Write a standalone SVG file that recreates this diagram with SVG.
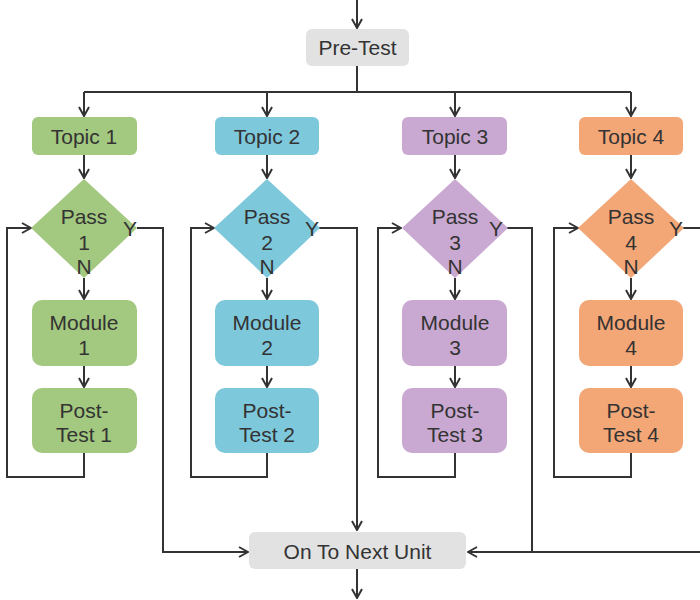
<svg xmlns="http://www.w3.org/2000/svg" width="700" height="600" viewBox="0 0 700 600">
  <style>
    .lbl { font-family: "Liberation Sans", Arial, sans-serif; font-size: 21px; fill: #333; text-anchor: middle; }
    .yn { font-family: "Liberation Sans", Arial, sans-serif; font-size: 21px; fill: #333; text-anchor: middle; }
    .wire { fill: none; stroke: #333; stroke-width: 2; }
    .arr { marker-end: url(#head); }
    .gray { fill: #e2e2e2; }
    .green { fill: #a3c87f; }
    .blue { fill: #7ec8dc; }
    .purple { fill: #c9a9d1; }
    .orange { fill: #f3a676; }
  </style>
  <defs>
    <marker id="head" viewBox="0 0 12 12" refX="11" refY="6" markerWidth="12" markerHeight="12" markerUnits="userSpaceOnUse" orient="auto">
      <path d="M2,1 L11,6 L2,11" fill="none" stroke="#333" stroke-width="2"/>
    </marker>
  </defs>
  <rect width="700" height="600" fill="#fff"/>

  <g id="connectors">
    <path class="wire arr" d="M357,0 V28"/>
    <path class="wire" d="M357,66 V92 M84,92 H631"/>
    <path class="wire arr" d="M84,92 V116"/>
    <path class="wire arr" d="M267,92 V116"/>
    <path class="wire arr" d="M455,92 V116"/>
    <path class="wire arr" d="M631,92 V116"/>

    <path class="wire arr" d="M84,155 V178"/>
    <path class="wire arr" d="M267,155 V178"/>
    <path class="wire arr" d="M455,155 V178"/>
    <path class="wire arr" d="M631,155 V178"/>

    <path class="wire arr" d="M84,278 V299"/>
    <path class="wire arr" d="M267,278 V299"/>
    <path class="wire arr" d="M455,278 V299"/>
    <path class="wire arr" d="M631,278 V299"/>

    <path class="wire arr" d="M84,366 V387"/>
    <path class="wire arr" d="M267,366 V387"/>
    <path class="wire arr" d="M455,366 V387"/>
    <path class="wire arr" d="M631,366 V387"/>

    <!-- retry loops back to each decision -->
    <path class="wire arr" d="M84,453 V477 H7 V228 H31"/>
    <path class="wire arr" d="M267,453 V477 H191 V228 H214"/>
    <path class="wire arr" d="M455,453 V477 H378 V228 H401"/>
    <path class="wire arr" d="M631,453 V477 H554 V228 H578"/>

    <!-- pass exits -->
    <path class="wire arr" d="M137,228 H163 V552 H248"/>
    <path class="wire arr" d="M319,228 H357 V530"/>
    <path class="wire" d="M507,228 H532 V552"/>
    <path class="wire arr" d="M683,228 H712 V552 H468"/>

    <path class="wire arr" d="M357,569 V598"/>
  </g>

  <g id="pretest">
    <rect class="gray" x="306" y="29" width="103" height="37" rx="6"/>
    <text class="lbl" x="357.5" y="55">Pre-Test</text>
  </g>

  <g id="topic1">
    <rect class="green" x="32" y="117" width="105" height="38" rx="6"/>
    <text class="lbl" x="84" y="144">Topic 1</text>
  </g>
  <g id="topic2">
    <rect class="blue" x="215" y="117" width="104" height="38" rx="6"/>
    <text class="lbl" x="267" y="144">Topic 2</text>
  </g>
  <g id="topic3">
    <rect class="purple" x="402" y="117" width="105" height="38" rx="6"/>
    <text class="lbl" x="455" y="144">Topic 3</text>
  </g>
  <g id="topic4">
    <rect class="orange" x="579" y="117" width="104" height="38" rx="6"/>
    <text class="lbl" x="631" y="144">Topic 4</text>
  </g>

  <g id="pass1">
    <path class="green" d="M84,179 L137,228 L84,278 L31,228 Z"/>
    <text class="lbl" x="84" y="224">Pass</text>
    <text class="lbl" x="84" y="250">1</text>
    <text class="lbl" x="84" y="274">N</text>
    <text class="yn" x="130" y="236">Y</text>
  </g>
  <g id="pass2">
    <path class="blue" d="M267,179 L320,228 L267,278 L214,228 Z"/>
    <text class="lbl" x="267" y="224">Pass</text>
    <text class="lbl" x="267" y="250">2</text>
    <text class="lbl" x="267" y="274">N</text>
    <text class="yn" x="312" y="236">Y</text>
  </g>
  <g id="pass3">
    <path class="purple" d="M455,179 L508,228 L455,278 L402,228 Z"/>
    <text class="lbl" x="455" y="224">Pass</text>
    <text class="lbl" x="455" y="250">3</text>
    <text class="lbl" x="455" y="274">N</text>
    <text class="yn" x="496" y="236">Y</text>
  </g>
  <g id="pass4">
    <path class="orange" d="M631,179 L684,228 L631,278 L578,228 Z"/>
    <text class="lbl" x="631" y="224">Pass</text>
    <text class="lbl" x="631" y="250">4</text>
    <text class="lbl" x="631" y="274">N</text>
    <text class="yn" x="676" y="236">Y</text>
  </g>

  <g id="module1">
    <rect class="green" x="32" y="300" width="105" height="66" rx="10"/>
    <text class="lbl" x="84" y="330">Module</text>
    <text class="lbl" x="84" y="355">1</text>
  </g>
  <g id="module2">
    <rect class="blue" x="215" y="300" width="104" height="66" rx="10"/>
    <text class="lbl" x="267" y="330">Module</text>
    <text class="lbl" x="267" y="355">2</text>
  </g>
  <g id="module3">
    <rect class="purple" x="402" y="300" width="105" height="66" rx="10"/>
    <text class="lbl" x="455" y="330">Module</text>
    <text class="lbl" x="455" y="355">3</text>
  </g>
  <g id="module4">
    <rect class="orange" x="579" y="300" width="104" height="66" rx="10"/>
    <text class="lbl" x="631" y="330">Module</text>
    <text class="lbl" x="631" y="355">4</text>
  </g>

  <g id="posttest1">
    <rect class="green" x="32" y="388" width="105" height="65" rx="10"/>
    <text class="lbl" x="84" y="418">Post-</text>
    <text class="lbl" x="84" y="442">Test 1</text>
  </g>
  <g id="posttest2">
    <rect class="blue" x="215" y="388" width="104" height="65" rx="10"/>
    <text class="lbl" x="267" y="418">Post-</text>
    <text class="lbl" x="267" y="442">Test 2</text>
  </g>
  <g id="posttest3">
    <rect class="purple" x="402" y="388" width="105" height="65" rx="10"/>
    <text class="lbl" x="455" y="418">Post-</text>
    <text class="lbl" x="455" y="442">Test 3</text>
  </g>
  <g id="posttest4">
    <rect class="orange" x="579" y="388" width="104" height="65" rx="10"/>
    <text class="lbl" x="631" y="418">Post-</text>
    <text class="lbl" x="631" y="442">Test 4</text>
  </g>

  <g id="nextunit">
    <rect class="gray" x="249" y="532" width="217" height="37" rx="6"/>
    <text class="lbl" x="357.5" y="559">On To Next Unit</text>
  </g>
</svg>
